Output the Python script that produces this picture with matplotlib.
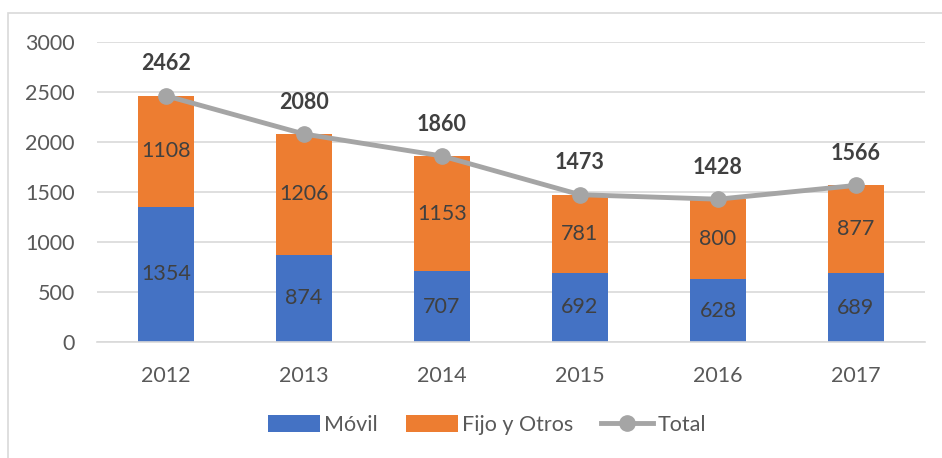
import numpy as np
import matplotlib.pyplot as plt
from matplotlib.patches import Rectangle

plt.rcParams['font.family'] = ['Lato', 'DejaVu Sans']

years = ["2012", "2013", "2014", "2015", "2016", "2017"]
movil = [1354, 874, 707, 692, 628, 689]
fijo = [1108, 1206, 1153, 781, 800, 877]
total = [2462, 2080, 1860, 1473, 1428, 1566]

c_movil = "#4472C4"
c_fijo = "#ED7D31"
c_total = "#A5A5A5"
txt = "#595959"
fs = 15.5

fig = plt.figure(figsize=(9.42, 4.58), dpi=100)
ax = fig.add_axes([97 / 942, 1 - 342 / 458, 828 / 942, 300 / 458])

# outer chart frame (cropped on right and bottom like the reference)
fig.patches.append(Rectangle((8 / 942, -0.1), 1.2, 1 - 13 / 458 + 0.1,
                             transform=fig.transFigure, fill=False,
                             edgecolor="#D9D9D9", lw=1.2))

x = np.arange(len(years))
w = 0.4
ax.bar(x, movil, w, color=c_movil, label="Móvil", zorder=2)
ax.bar(x, fijo, w, bottom=movil, color=c_fijo, label="Fijo y Otros", zorder=2)
ax.plot(x, total, color=c_total, lw=3.5, marker="o", ms=11, label="Total", zorder=3)

for i in range(len(years)):
    ax.text(x[i], movil[i] / 2, str(movil[i]), ha="center", va="center",
            fontsize=fs, color="#404040", zorder=4)
    ax.text(x[i], movil[i] + fijo[i] / 2, str(fijo[i]), ha="center", va="center",
            fontsize=fs, color="#404040", zorder=4)
    ax.annotate(str(total[i]), (x[i], total[i]), xytext=(0, 23),
                textcoords="offset points", ha="center", va="center",
                fontsize=fs, fontweight="bold", color="#404040", zorder=4)

ax.set_xlim(-0.5, len(years) - 0.5)
ax.set_ylim(0, 3000)
ax.set_yticks(np.arange(0, 3001, 500))
ax.set_xticks(x)
ax.set_xticklabels(years)
ax.yaxis.grid(True, color="#D9D9D9", lw=1.2, zorder=0)
ax.set_axisbelow(True)
for s in ["top", "right", "left"]:
    ax.spines[s].set_visible(False)
ax.spines["bottom"].set_color("#D9D9D9")
ax.spines["bottom"].set_linewidth(1.2)
ax.tick_params(length=0, labelsize=fs, colors=txt)
ax.tick_params(axis="y", pad=16)
ax.tick_params(axis="x", pad=17)

h, l = ax.get_legend_handles_labels()
order = [1, 2, 0]
ax.legend([h[i] for i in order], [l[i] for i in order],
          loc="center", bbox_to_anchor=(487 / 942, (458 - 425) / 458), bbox_transform=fig.transFigure,
          ncol=3, frameon=False, fontsize=fs, labelcolor=txt,
          handlelength=2.4, handleheight=0.8, columnspacing=1.3, handletextpad=0.2)

fig.savefig("out.png", dpi=100)
